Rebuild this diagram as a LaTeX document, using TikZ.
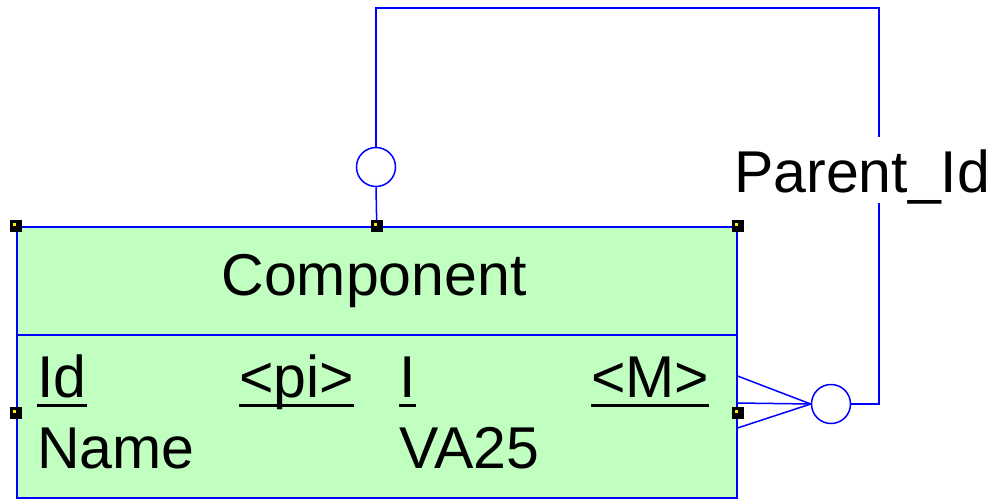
\documentclass[tikz,border=0pt]{standalone}
\usepackage{fontspec}
\setmainfont{Liberation Sans}
\usetikzlibrary{positioning,calc}
\definecolor{linkblue}{RGB}{0,0,255}
\definecolor{entgreen}{RGB}{192,255,192}
\tikzset{
  entity/.style={draw=linkblue, fill=entgreen, line width=1.5pt, rectangle, minimum width=720pt, minimum height=271pt, inner sep=0pt, anchor=north west},
  attr/.style={anchor=base west, inner sep=0pt, font=\fontsize{59}{61}\selectfont},
  title/.style={anchor=base, inner sep=0pt, font=\fontsize{59}{61}\selectfont},
  uline/.style={line width=3pt},
  link/.style={draw=linkblue, line width=1.5pt},
  card/.style={circle, draw=linkblue, fill=white, line width=1.5pt, minimum size=39pt, inner sep=0pt},
  handle/.style={fill=black, minimum size=12pt, inner sep=0pt, path picture={\fill[yellow] (path picture bounding box.center) rectangle +(-3pt,3pt);}}
}

\begin{document}
\begin{tikzpicture}[x=1pt,y=-1pt]
  \useasboundingbox (0,0) rectangle (991,499);

  % entity box
  \node[entity] (comp) at (16,226) {};
  \draw[link] ($(comp.north west)+(0,109)$) -- ($(comp.north east)+(0,109)$);
  \node[title] (cname) at (374,295) {Component};
  \node[attr] (aid) at (37,397) {Id};
  \node[attr] (apk) at (239,397) {<pi>};
  \node[attr] (atyp) at (399,397) {I};
  \node[attr] (amand) at (591,397) {<M>};
  \node[attr] (aname) at (37,468) {Name};
  \node[attr] (adom) at (399,468) {VA25};
  \foreach \n in {aid,apk,atyp,amand}
    \draw[uline] ($(\n.base west)+(0,8)$) -- ($(\n.base east)+(0,8)$);

  % self reference
  \node[card] (topc) at (376,167) {};
  \node[card] (sidec) at (831,404) {};
  \coordinate (tl) at (376,8);
  \coordinate (tr) at (879,8);
  \coordinate (br) at (879,404);
  \coordinate (cf) at ($(comp.north east)+(0,177)$);
  \draw[link] (comp.north) -- (topc.south);
  \draw[link] (topc.north) -- (tl) -- (tr) -- (br) -- (sidec.east);
  \draw[link] ($(cf)+(0,-27)$) -- (sidec.west);
  \draw[link] (cf) -- (sidec.west);
  \draw[link] ($(cf)+(0,25)$) -- (sidec.west);
  \node[attr, fill=white, text height=55pt, text depth=11pt] (role) at (734,192) {Parent\_Id};

  % selection handles
  \node[handle] (h1) at (comp.north west) {};
  \node[handle] (h2) at (comp.north) {};
  \node[handle] (h3) at (comp.north east) {};
  \node[handle] (h4) at ($(comp.north west)+(0,187)$) {};
  \node[handle] (h5) at ($(comp.north east)+(0,187)$) {};
\end{tikzpicture}
\end{document}
